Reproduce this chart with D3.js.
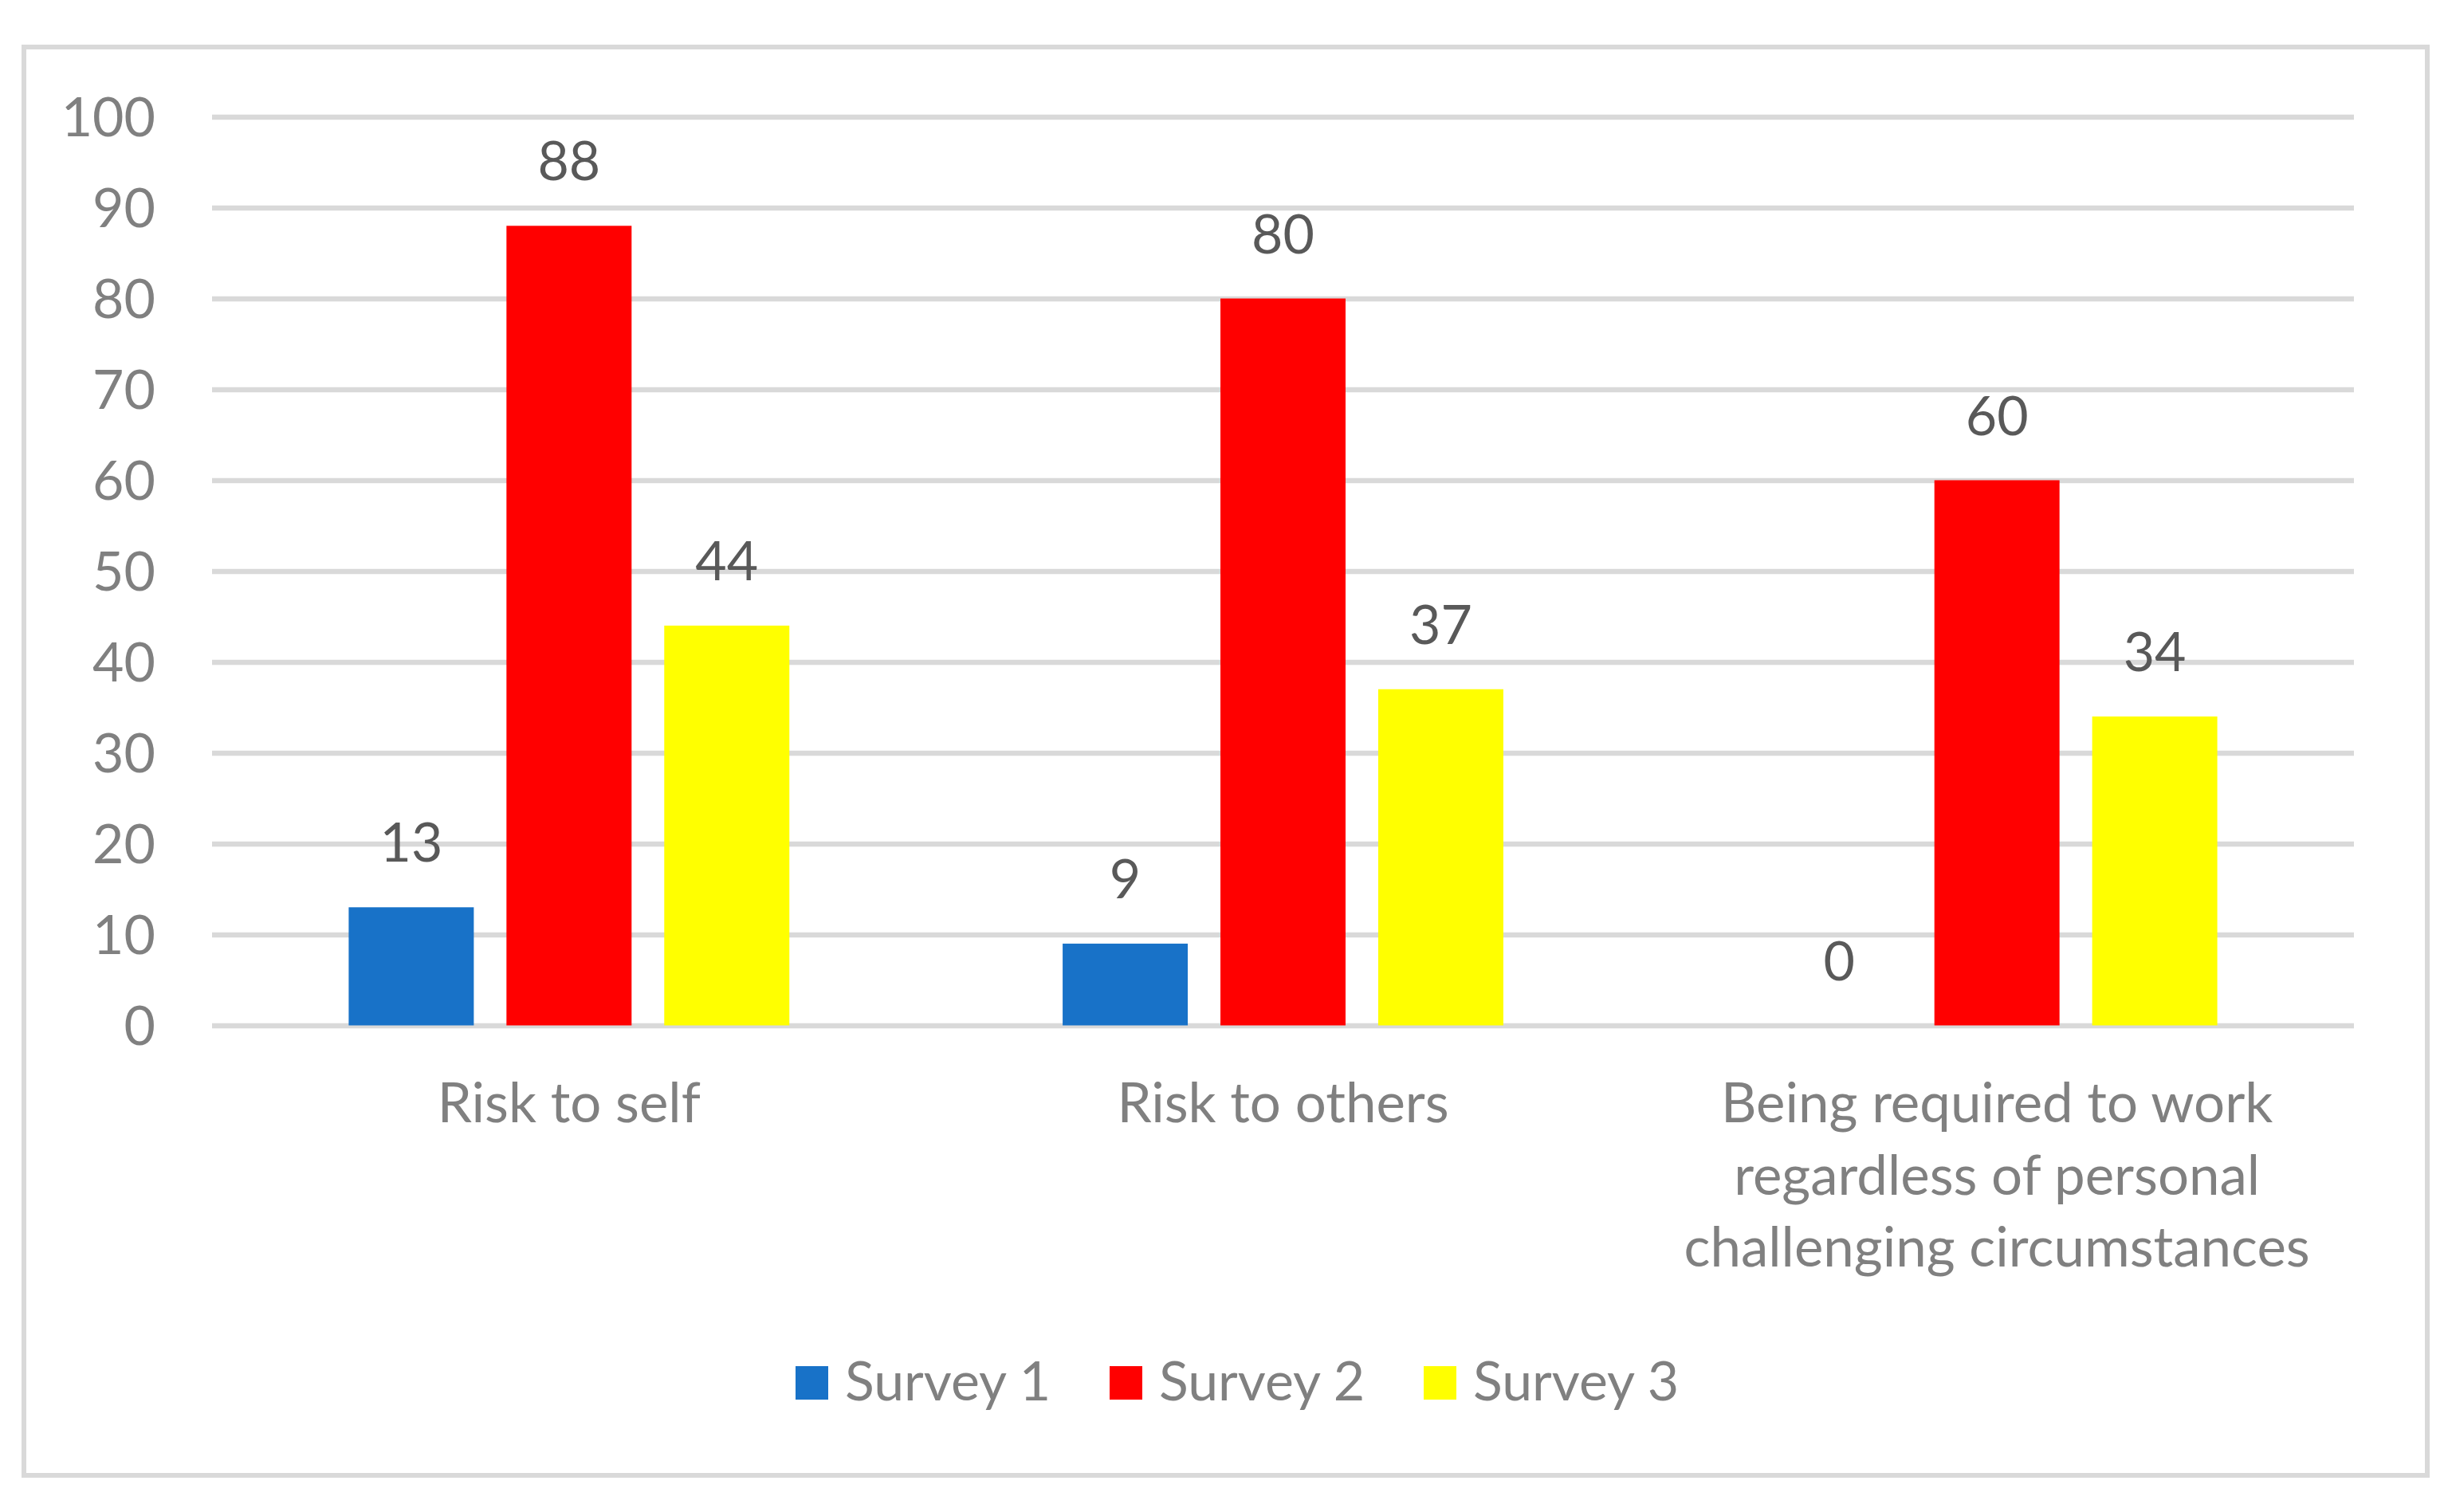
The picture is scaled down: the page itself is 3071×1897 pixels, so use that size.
<!DOCTYPE html>
<html>
<head>
<meta charset="utf-8">
<script src="https://cdn.jsdelivr.net/npm/d3@7"></script>
<style>
  html, body { margin: 0; padding: 0; background: #ffffff; }
  svg { display: block; }
  text { font-family: Lato, "Open Sans", "Noto Sans", sans-serif; }
</style>
</head>
<body>
<svg id="chart" width="3071" height="1897"></svg>
<script>
// ---- data ----
const categories = [
  "Risk to self",
  "Risk to others",
  "Being required to work\nregardless of personal\nchallenging circumstances"
];
const seriesNames = ["Survey 1", "Survey 2", "Survey 3"];
const survey1 = [13, 9, 0];
const survey2 = [88, 80, 60];
const survey3 = [44, 37, 34];
const seriesColors = ["#1872C8", "#FF0000", "#FFFF00"];
const yTicks = [0, 10, 20, 30, 40, 50, 60, 70, 80, 90, 100];

const seriesValues = [survey1, survey2, survey3];
const table = categories.map((c, i) => ({
  category: c,
  values: seriesNames.map((s, j) => ({ series: s, value: seriesValues[j][i] }))
}));

// ---- layout ----
const W = 3071, H = 1897;
const plot = { left: 266, right: 2953, top: 146.5, bottom: 1286.5 };
const fontSize = 68;
const catFontSize = 69;
const axisColor = "#808080";
const labelColor = "#595959";
const gridColor = "#D9D9D9";

const svg = d3.select("#chart");

svg.append("rect").attr("x", 0).attr("y", 0).attr("width", W).attr("height", H).attr("fill", "#fff");

// outer chart border
svg.append("rect")
  .attr("x", 30).attr("y", 59)
  .attr("width", 3045 - 30).attr("height", 1851 - 59)
  .attr("fill", "none").attr("stroke", gridColor).attr("stroke-width", 6);

const y = d3.scaleLinear().domain([0, 100]).range([plot.bottom, plot.top]);
const x0 = d3.scaleBand().domain(categories).range([plot.left, plot.right]).paddingInner(0).paddingOuter(0);
const x1 = d3.scaleBand().domain(seriesNames).range([0, x0.bandwidth()]).paddingInner(0.207).paddingOuter(0.866);
const color = d3.scaleOrdinal().domain(seriesNames).range(seriesColors);

// y axis + gridlines
const yAxis = svg.append("g")
  .attr("transform", `translate(${plot.left},0)`)
  .call(d3.axisLeft(y).tickValues(yTicks).tickSize(-(plot.right - plot.left)).tickPadding(71).tickFormat(d3.format("d")));
yAxis.select(".domain").remove();
yAxis.selectAll(".tick line").attr("stroke", gridColor).attr("stroke-width", 6.7);
yAxis.selectAll(".tick text")
  .attr("fill", axisColor)
  .attr("font-size", fontSize)
  .attr("dy", "0.36em")
  .style("font-family", "Lato, 'Open Sans', sans-serif");

// bars
const groups = svg.append("g").selectAll("g.group")
  .data(table).join("g")
  .attr("class", "group")
  .attr("transform", d => `translate(${x0(d.category)},0)`);

groups.selectAll("rect")
  .data(d => d.values).join("rect")
  .attr("x", d => x1(d.series))
  .attr("width", x1.bandwidth())
  .attr("y", d => y(d.value))
  .attr("height", d => y(0) - y(d.value))
  .attr("fill", d => color(d.series));

// data labels
groups.selectAll("text.dl")
  .data(d => d.values).join("text")
  .attr("class", "dl")
  .attr("x", d => x1(d.series) + x1.bandwidth() / 2)
  .attr("y", d => y(d.value) - 57)
  .attr("text-anchor", "middle")
  .attr("font-size", fontSize)
  .attr("fill", labelColor)
  .text(d => d.value);

// category labels
const catG = svg.append("g");
table.forEach(d => {
  const lines = d.category.split("\n");
  const cx = x0(d.category) + x0.bandwidth() / 2;
  const t = catG.append("text")
    .attr("x", cx)
    .attr("y", 1408)
    .attr("text-anchor", "middle")
    .attr("font-size", catFontSize)
    .attr("fill", axisColor);
  lines.forEach((ln, i) => {
    t.append("tspan")
      .attr("x", cx)
      .attr("y", 1408 + i * 90.5)
      .text(ln);
  });
});

// legend
const legend = svg.append("g");
const legendX = d3.scalePoint().domain(seriesNames).range([998, 998 + 2 * 394]);
seriesNames.forEach(s => {
  const g = legend.append("g").attr("transform", `translate(${legendX(s)},0)`);
  g.append("rect").attr("x", 0).attr("y", 1714).attr("width", 41).attr("height", 42).attr("fill", color(s));
  g.append("text").attr("x", 62).attr("y", 1757)
    .attr("font-size", fontSize).attr("fill", axisColor).text(s);
});
</script>
</body>
</html>
